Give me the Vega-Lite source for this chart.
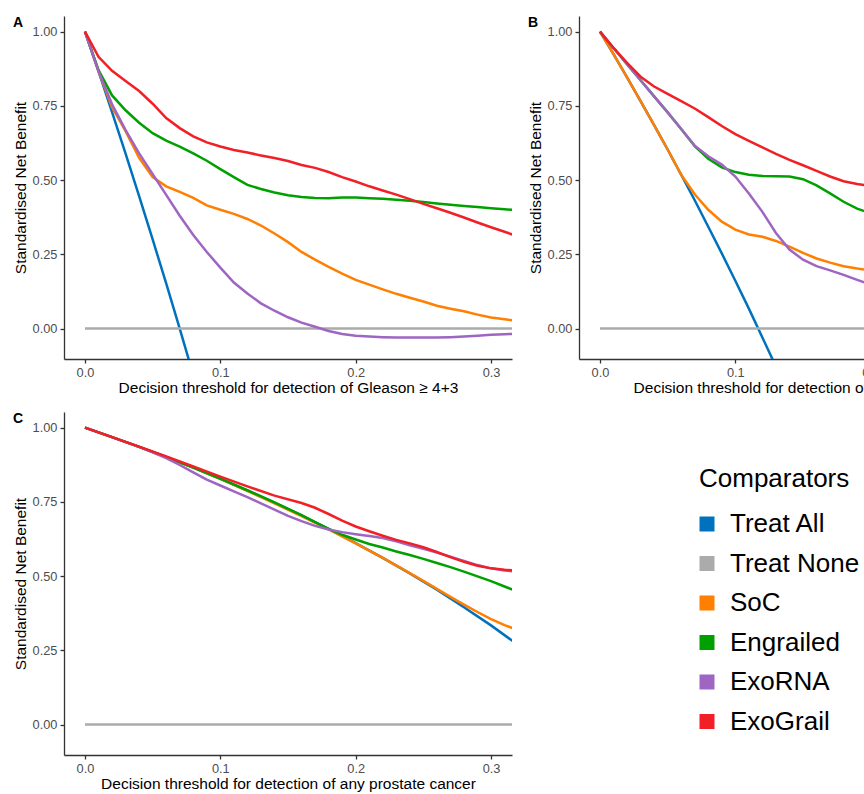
{
  "$schema": "https://vega.github.io/schema/vega-lite/v6.json",
  "padding": {"left": 13, "top": 16, "right": 0, "bottom": 0},
  "config": {
    "font": "Liberation Sans",
    "view": {"stroke": null},
    "axis": {"domainColor": "#333333", "domainWidth": 1.3, "tickColor": "#333333", "tickWidth": 1.3, "tickSize": 4, "labelFontSize": 12.8, "labelColor": "#4D4D4D", "labelPadding": 3, "titleFontSize": 15.5, "titleFontWeight": "normal", "titleColor": "#000000", "grid": false, "titlePadding": 4},
    "axisX": {"titlePadding": 2},
    "title": {"fontSize": 14, "fontWeight": "bold", "anchor": "start", "frame": "group", "offset": -9, "baseline": "alphabetic", "dx": -51, "dy": 5}
  },
  "datasets": {
    "dA": [
      {"m":"Treat All","t":0,"v":1},{"m":"Treat All","t":0.01,"v":0.866},{"m":"Treat All","t":0.02,"v":0.729},{"m":"Treat All","t":0.03,"v":0.589},{"m":"Treat All","t":0.04,"v":0.446},{"m":"Treat All","t":0.05,"v":0.3},{"m":"Treat All","t":0.06,"v":0.152},{"m":"Treat All","t":0.07,"v":0},{"m":"Treat All","t":0.08,"v":-0.156},
      {"m":"Treat None","t":0,"v":0},{"m":"Treat None","t":0.32,"v":0},
      {"m":"SoC","t":0,"v":1},{"m":"SoC","t":0.01,"v":0.866},{"m":"SoC","t":0.02,"v":0.745},{"m":"SoC","t":0.03,"v":0.665},{"m":"SoC","t":0.04,"v":0.575},{"m":"SoC","t":0.05,"v":0.51},{"m":"SoC","t":0.06,"v":0.479},{"m":"SoC","t":0.07,"v":0.46},{"m":"SoC","t":0.08,"v":0.44},{"m":"SoC","t":0.09,"v":0.415},{"m":"SoC","t":0.1,"v":0.4},{"m":"SoC","t":0.11,"v":0.386},{"m":"SoC","t":0.12,"v":0.369},{"m":"SoC","t":0.13,"v":0.347},{"m":"SoC","t":0.14,"v":0.32},{"m":"SoC","t":0.15,"v":0.291},{"m":"SoC","t":0.16,"v":0.258},{"m":"SoC","t":0.17,"v":0.232},{"m":"SoC","t":0.18,"v":0.208},{"m":"SoC","t":0.19,"v":0.185},{"m":"SoC","t":0.2,"v":0.164},{"m":"SoC","t":0.21,"v":0.148},{"m":"SoC","t":0.22,"v":0.132},{"m":"SoC","t":0.23,"v":0.117},{"m":"SoC","t":0.24,"v":0.104},{"m":"SoC","t":0.25,"v":0.091},{"m":"SoC","t":0.26,"v":0.077},{"m":"SoC","t":0.27,"v":0.067},{"m":"SoC","t":0.28,"v":0.058},{"m":"SoC","t":0.29,"v":0.047},{"m":"SoC","t":0.3,"v":0.037},{"m":"SoC","t":0.31,"v":0.031},{"m":"SoC","t":0.32,"v":0.026},
      {"m":"Engrailed","t":0,"v":1},{"m":"Engrailed","t":0.01,"v":0.87},{"m":"Engrailed","t":0.02,"v":0.785},{"m":"Engrailed","t":0.03,"v":0.735},{"m":"Engrailed","t":0.04,"v":0.693},{"m":"Engrailed","t":0.05,"v":0.658},{"m":"Engrailed","t":0.06,"v":0.633},{"m":"Engrailed","t":0.07,"v":0.613},{"m":"Engrailed","t":0.08,"v":0.59},{"m":"Engrailed","t":0.09,"v":0.565},{"m":"Engrailed","t":0.1,"v":0.537},{"m":"Engrailed","t":0.11,"v":0.51},{"m":"Engrailed","t":0.12,"v":0.484},{"m":"Engrailed","t":0.13,"v":0.47},{"m":"Engrailed","t":0.14,"v":0.458},{"m":"Engrailed","t":0.15,"v":0.449},{"m":"Engrailed","t":0.16,"v":0.443},{"m":"Engrailed","t":0.17,"v":0.44},{"m":"Engrailed","t":0.18,"v":0.439},{"m":"Engrailed","t":0.19,"v":0.441},{"m":"Engrailed","t":0.2,"v":0.441},{"m":"Engrailed","t":0.21,"v":0.439},{"m":"Engrailed","t":0.22,"v":0.437},{"m":"Engrailed","t":0.23,"v":0.434},{"m":"Engrailed","t":0.24,"v":0.43},{"m":"Engrailed","t":0.25,"v":0.426},{"m":"Engrailed","t":0.26,"v":0.421},{"m":"Engrailed","t":0.27,"v":0.417},{"m":"Engrailed","t":0.28,"v":0.413},{"m":"Engrailed","t":0.29,"v":0.409},{"m":"Engrailed","t":0.3,"v":0.405},{"m":"Engrailed","t":0.31,"v":0.402},{"m":"Engrailed","t":0.32,"v":0.398},
      {"m":"ExoRNA","t":0,"v":1},{"m":"ExoRNA","t":0.01,"v":0.866},{"m":"ExoRNA","t":0.02,"v":0.755},{"m":"ExoRNA","t":0.03,"v":0.668},{"m":"ExoRNA","t":0.04,"v":0.59},{"m":"ExoRNA","t":0.05,"v":0.52},{"m":"ExoRNA","t":0.06,"v":0.45},{"m":"ExoRNA","t":0.07,"v":0.38},{"m":"ExoRNA","t":0.08,"v":0.315},{"m":"ExoRNA","t":0.09,"v":0.258},{"m":"ExoRNA","t":0.1,"v":0.205},{"m":"ExoRNA","t":0.11,"v":0.155},{"m":"ExoRNA","t":0.12,"v":0.118},{"m":"ExoRNA","t":0.13,"v":0.085},{"m":"ExoRNA","t":0.14,"v":0.06},{"m":"ExoRNA","t":0.15,"v":0.038},{"m":"ExoRNA","t":0.16,"v":0.02},{"m":"ExoRNA","t":0.17,"v":0.006},{"m":"ExoRNA","t":0.18,"v":-0.008},{"m":"ExoRNA","t":0.19,"v":-0.018},{"m":"ExoRNA","t":0.2,"v":-0.024},{"m":"ExoRNA","t":0.21,"v":-0.027},{"m":"ExoRNA","t":0.22,"v":-0.029},{"m":"ExoRNA","t":0.23,"v":-0.03},{"m":"ExoRNA","t":0.24,"v":-0.03},{"m":"ExoRNA","t":0.25,"v":-0.03},{"m":"ExoRNA","t":0.26,"v":-0.03},{"m":"ExoRNA","t":0.27,"v":-0.029},{"m":"ExoRNA","t":0.28,"v":-0.027},{"m":"ExoRNA","t":0.29,"v":-0.024},{"m":"ExoRNA","t":0.3,"v":-0.021},{"m":"ExoRNA","t":0.31,"v":-0.019},{"m":"ExoRNA","t":0.32,"v":-0.017},
      {"m":"ExoGrail","t":0,"v":1},{"m":"ExoGrail","t":0.01,"v":0.915},{"m":"ExoGrail","t":0.02,"v":0.868},{"m":"ExoGrail","t":0.03,"v":0.834},{"m":"ExoGrail","t":0.04,"v":0.8},{"m":"ExoGrail","t":0.05,"v":0.757},{"m":"ExoGrail","t":0.06,"v":0.709},{"m":"ExoGrail","t":0.07,"v":0.675},{"m":"ExoGrail","t":0.08,"v":0.647},{"m":"ExoGrail","t":0.09,"v":0.627},{"m":"ExoGrail","t":0.1,"v":0.613},{"m":"ExoGrail","t":0.11,"v":0.601},{"m":"ExoGrail","t":0.12,"v":0.593},{"m":"ExoGrail","t":0.13,"v":0.583},{"m":"ExoGrail","t":0.14,"v":0.574},{"m":"ExoGrail","t":0.15,"v":0.564},{"m":"ExoGrail","t":0.16,"v":0.551},{"m":"ExoGrail","t":0.17,"v":0.541},{"m":"ExoGrail","t":0.18,"v":0.527},{"m":"ExoGrail","t":0.19,"v":0.51},{"m":"ExoGrail","t":0.2,"v":0.495},{"m":"ExoGrail","t":0.21,"v":0.479},{"m":"ExoGrail","t":0.22,"v":0.465},{"m":"ExoGrail","t":0.23,"v":0.451},{"m":"ExoGrail","t":0.24,"v":0.436},{"m":"ExoGrail","t":0.25,"v":0.42},{"m":"ExoGrail","t":0.26,"v":0.405},{"m":"ExoGrail","t":0.27,"v":0.39},{"m":"ExoGrail","t":0.28,"v":0.374},{"m":"ExoGrail","t":0.29,"v":0.357},{"m":"ExoGrail","t":0.3,"v":0.341},{"m":"ExoGrail","t":0.31,"v":0.326},{"m":"ExoGrail","t":0.32,"v":0.31}
    ],
    "dB": [
      {"m":"Treat All","t":0,"v":1},{"m":"Treat All","t":0.01,"v":0.924},{"m":"Treat All","t":0.02,"v":0.846},{"m":"Treat All","t":0.03,"v":0.766},{"m":"Treat All","t":0.04,"v":0.685},{"m":"Treat All","t":0.05,"v":0.603},{"m":"Treat All","t":0.06,"v":0.518},{"m":"Treat All","t":0.07,"v":0.432},{"m":"Treat All","t":0.08,"v":0.343},{"m":"Treat All","t":0.09,"v":0.253},{"m":"Treat All","t":0.1,"v":0.161},{"m":"Treat All","t":0.11,"v":0.067},{"m":"Treat All","t":0.12,"v":-0.03},{"m":"Treat All","t":0.13,"v":-0.128},
      {"m":"Treat None","t":0,"v":0},{"m":"Treat None","t":0.32,"v":0},
      {"m":"SoC","t":0,"v":1},{"m":"SoC","t":0.01,"v":0.924},{"m":"SoC","t":0.02,"v":0.846},{"m":"SoC","t":0.03,"v":0.766},{"m":"SoC","t":0.04,"v":0.685},{"m":"SoC","t":0.05,"v":0.603},{"m":"SoC","t":0.06,"v":0.518},{"m":"SoC","t":0.07,"v":0.452},{"m":"SoC","t":0.08,"v":0.4},{"m":"SoC","t":0.09,"v":0.36},{"m":"SoC","t":0.1,"v":0.333},{"m":"SoC","t":0.11,"v":0.317},{"m":"SoC","t":0.12,"v":0.309},{"m":"SoC","t":0.13,"v":0.295},{"m":"SoC","t":0.14,"v":0.276},{"m":"SoC","t":0.15,"v":0.255},{"m":"SoC","t":0.16,"v":0.236},{"m":"SoC","t":0.17,"v":0.222},{"m":"SoC","t":0.18,"v":0.21},{"m":"SoC","t":0.19,"v":0.202},{"m":"SoC","t":0.2,"v":0.196},
      {"m":"Engrailed","t":0,"v":1},{"m":"Engrailed","t":0.01,"v":0.945},{"m":"Engrailed","t":0.02,"v":0.89},{"m":"Engrailed","t":0.03,"v":0.836},{"m":"Engrailed","t":0.04,"v":0.782},{"m":"Engrailed","t":0.05,"v":0.728},{"m":"Engrailed","t":0.06,"v":0.672},{"m":"Engrailed","t":0.07,"v":0.614},{"m":"Engrailed","t":0.08,"v":0.572},{"m":"Engrailed","t":0.09,"v":0.543},{"m":"Engrailed","t":0.1,"v":0.527},{"m":"Engrailed","t":0.11,"v":0.518},{"m":"Engrailed","t":0.12,"v":0.514},{"m":"Engrailed","t":0.13,"v":0.513},{"m":"Engrailed","t":0.14,"v":0.512},{"m":"Engrailed","t":0.15,"v":0.503},{"m":"Engrailed","t":0.16,"v":0.482},{"m":"Engrailed","t":0.17,"v":0.455},{"m":"Engrailed","t":0.18,"v":0.427},{"m":"Engrailed","t":0.19,"v":0.404},{"m":"Engrailed","t":0.2,"v":0.388},
      {"m":"ExoRNA","t":0,"v":1},{"m":"ExoRNA","t":0.01,"v":0.945},{"m":"ExoRNA","t":0.02,"v":0.89},{"m":"ExoRNA","t":0.03,"v":0.836},{"m":"ExoRNA","t":0.04,"v":0.782},{"m":"ExoRNA","t":0.05,"v":0.728},{"m":"ExoRNA","t":0.06,"v":0.672},{"m":"ExoRNA","t":0.07,"v":0.616},{"m":"ExoRNA","t":0.08,"v":0.58},{"m":"ExoRNA","t":0.09,"v":0.552},{"m":"ExoRNA","t":0.1,"v":0.512},{"m":"ExoRNA","t":0.11,"v":0.455},{"m":"ExoRNA","t":0.12,"v":0.393},{"m":"ExoRNA","t":0.13,"v":0.322},{"m":"ExoRNA","t":0.14,"v":0.266},{"m":"ExoRNA","t":0.15,"v":0.232},{"m":"ExoRNA","t":0.16,"v":0.21},{"m":"ExoRNA","t":0.17,"v":0.196},{"m":"ExoRNA","t":0.18,"v":0.181},{"m":"ExoRNA","t":0.19,"v":0.164},{"m":"ExoRNA","t":0.2,"v":0.148},
      {"m":"ExoGrail","t":0,"v":1},{"m":"ExoGrail","t":0.01,"v":0.945},{"m":"ExoGrail","t":0.02,"v":0.895},{"m":"ExoGrail","t":0.03,"v":0.848},{"m":"ExoGrail","t":0.04,"v":0.815},{"m":"ExoGrail","t":0.05,"v":0.79},{"m":"ExoGrail","t":0.06,"v":0.766},{"m":"ExoGrail","t":0.07,"v":0.741},{"m":"ExoGrail","t":0.08,"v":0.712},{"m":"ExoGrail","t":0.09,"v":0.682},{"m":"ExoGrail","t":0.1,"v":0.655},{"m":"ExoGrail","t":0.11,"v":0.632},{"m":"ExoGrail","t":0.12,"v":0.61},{"m":"ExoGrail","t":0.13,"v":0.588},{"m":"ExoGrail","t":0.14,"v":0.568},{"m":"ExoGrail","t":0.15,"v":0.55},{"m":"ExoGrail","t":0.16,"v":0.531},{"m":"ExoGrail","t":0.17,"v":0.512},{"m":"ExoGrail","t":0.18,"v":0.496},{"m":"ExoGrail","t":0.19,"v":0.487},{"m":"ExoGrail","t":0.2,"v":0.48}
    ],
    "dC": [
      {"m":"Treat All","t":0,"v":1},{"m":"Treat All","t":0.02,"v":0.968},{"m":"Treat All","t":0.04,"v":0.935},{"m":"Treat All","t":0.06,"v":0.901},{"m":"Treat All","t":0.08,"v":0.865},{"m":"Treat All","t":0.1,"v":0.827},{"m":"Treat All","t":0.12,"v":0.788},{"m":"Treat All","t":0.14,"v":0.747},{"m":"Treat All","t":0.16,"v":0.704},{"m":"Treat All","t":0.18,"v":0.659},{"m":"Treat All","t":0.2,"v":0.611},{"m":"Treat All","t":0.22,"v":0.561},{"m":"Treat All","t":0.24,"v":0.509},{"m":"Treat All","t":0.26,"v":0.454},{"m":"Treat All","t":0.28,"v":0.395},{"m":"Treat All","t":0.3,"v":0.334},{"m":"Treat All","t":0.32,"v":0.268},
      {"m":"Treat None","t":0,"v":0},{"m":"Treat None","t":0.32,"v":0},
      {"m":"SoC","t":0,"v":1},{"m":"SoC","t":0.02,"v":0.968},{"m":"SoC","t":0.04,"v":0.935},{"m":"SoC","t":0.06,"v":0.901},{"m":"SoC","t":0.08,"v":0.865},{"m":"SoC","t":0.1,"v":0.827},{"m":"SoC","t":0.12,"v":0.787},{"m":"SoC","t":0.14,"v":0.745},{"m":"SoC","t":0.16,"v":0.702},{"m":"SoC","t":0.18,"v":0.657},{"m":"SoC","t":0.2,"v":0.61},{"m":"SoC","t":0.22,"v":0.561},{"m":"SoC","t":0.24,"v":0.51},{"m":"SoC","t":0.25,"v":0.484},{"m":"SoC","t":0.26,"v":0.457},{"m":"SoC","t":0.27,"v":0.43},{"m":"SoC","t":0.28,"v":0.404},{"m":"SoC","t":0.29,"v":0.379},{"m":"SoC","t":0.3,"v":0.355},{"m":"SoC","t":0.31,"v":0.335},{"m":"SoC","t":0.32,"v":0.318},
      {"m":"Engrailed","t":0,"v":1},{"m":"Engrailed","t":0.02,"v":0.968},{"m":"Engrailed","t":0.04,"v":0.935},{"m":"Engrailed","t":0.06,"v":0.901},{"m":"Engrailed","t":0.08,"v":0.865},{"m":"Engrailed","t":0.1,"v":0.828},{"m":"Engrailed","t":0.12,"v":0.789},{"m":"Engrailed","t":0.14,"v":0.748},{"m":"Engrailed","t":0.16,"v":0.705},{"m":"Engrailed","t":0.17,"v":0.682},{"m":"Engrailed","t":0.18,"v":0.659},{"m":"Engrailed","t":0.19,"v":0.639},{"m":"Engrailed","t":0.2,"v":0.623},{"m":"Engrailed","t":0.21,"v":0.608},{"m":"Engrailed","t":0.22,"v":0.596},{"m":"Engrailed","t":0.23,"v":0.583},{"m":"Engrailed","t":0.24,"v":0.571},{"m":"Engrailed","t":0.25,"v":0.558},{"m":"Engrailed","t":0.26,"v":0.544},{"m":"Engrailed","t":0.27,"v":0.53},{"m":"Engrailed","t":0.28,"v":0.515},{"m":"Engrailed","t":0.29,"v":0.499},{"m":"Engrailed","t":0.3,"v":0.483},{"m":"Engrailed","t":0.31,"v":0.465},{"m":"Engrailed","t":0.32,"v":0.447},
      {"m":"ExoRNA","t":0,"v":1},{"m":"ExoRNA","t":0.02,"v":0.968},{"m":"ExoRNA","t":0.04,"v":0.935},{"m":"ExoRNA","t":0.05,"v":0.917},{"m":"ExoRNA","t":0.06,"v":0.897},{"m":"ExoRNA","t":0.07,"v":0.874},{"m":"ExoRNA","t":0.08,"v":0.849},{"m":"ExoRNA","t":0.09,"v":0.825},{"m":"ExoRNA","t":0.1,"v":0.805},{"m":"ExoRNA","t":0.11,"v":0.785},{"m":"ExoRNA","t":0.12,"v":0.766},{"m":"ExoRNA","t":0.13,"v":0.745},{"m":"ExoRNA","t":0.14,"v":0.724},{"m":"ExoRNA","t":0.15,"v":0.703},{"m":"ExoRNA","t":0.16,"v":0.685},{"m":"ExoRNA","t":0.17,"v":0.669},{"m":"ExoRNA","t":0.18,"v":0.657},{"m":"ExoRNA","t":0.19,"v":0.648},{"m":"ExoRNA","t":0.2,"v":0.641},{"m":"ExoRNA","t":0.21,"v":0.635},{"m":"ExoRNA","t":0.22,"v":0.628},{"m":"ExoRNA","t":0.23,"v":0.617},{"m":"ExoRNA","t":0.24,"v":0.604},{"m":"ExoRNA","t":0.25,"v":0.592},{"m":"ExoRNA","t":0.26,"v":0.579},{"m":"ExoRNA","t":0.27,"v":0.565},{"m":"ExoRNA","t":0.28,"v":0.551},{"m":"ExoRNA","t":0.29,"v":0.537},{"m":"ExoRNA","t":0.3,"v":0.526},{"m":"ExoRNA","t":0.31,"v":0.519},{"m":"ExoRNA","t":0.32,"v":0.514},
      {"m":"ExoGrail","t":0,"v":1},{"m":"ExoGrail","t":0.02,"v":0.968},{"m":"ExoGrail","t":0.04,"v":0.936},{"m":"ExoGrail","t":0.06,"v":0.903},{"m":"ExoGrail","t":0.08,"v":0.869},{"m":"ExoGrail","t":0.1,"v":0.835},{"m":"ExoGrail","t":0.12,"v":0.802},{"m":"ExoGrail","t":0.14,"v":0.771},{"m":"ExoGrail","t":0.16,"v":0.746},{"m":"ExoGrail","t":0.17,"v":0.73},{"m":"ExoGrail","t":0.18,"v":0.709},{"m":"ExoGrail","t":0.19,"v":0.687},{"m":"ExoGrail","t":0.2,"v":0.667},{"m":"ExoGrail","t":0.21,"v":0.651},{"m":"ExoGrail","t":0.22,"v":0.636},{"m":"ExoGrail","t":0.23,"v":0.622},{"m":"ExoGrail","t":0.24,"v":0.61},{"m":"ExoGrail","t":0.25,"v":0.597},{"m":"ExoGrail","t":0.26,"v":0.581},{"m":"ExoGrail","t":0.27,"v":0.564},{"m":"ExoGrail","t":0.28,"v":0.548},{"m":"ExoGrail","t":0.29,"v":0.535},{"m":"ExoGrail","t":0.3,"v":0.526},{"m":"ExoGrail","t":0.31,"v":0.521},{"m":"ExoGrail","t":0.32,"v":0.518}
    ]
  },
  "columns": 2,
  "spacing": {"row": 53, "column": 67},
  "bounds": "flush",
  "concat": [
    {
      "width": 448, "height": 343,
      "data": {"name": "dA"},
      "title": {"text": "A"},
      "mark": {"type": "line", "strokeWidth": 2.5, "clip": true},
      "encoding": {
        "x": {"field": "t", "type": "quantitative", "scale": {"domain": [-0.0155, 0.3155], "nice": false, "zero": false}, "axis": {"values": [0, 0.1, 0.2, 0.3], "format": ".1f", "title": "Decision threshold for detection of Gleason ≥ 4+3"}},
        "y": {"field": "v", "type": "quantitative", "scale": {"domain": [-0.1025, 1.0525], "nice": false, "zero": false}, "axis": {"values": [0, 0.25, 0.5, 0.75, 1], "format": ".2f", "title": "Standardised Net Benefit"}},
        "color": {"field": "m", "type": "nominal", "scale": {"domain": ["Treat All", "Treat None", "SoC", "Engrailed", "ExoRNA", "ExoGrail"], "range": ["#0072BD", "#ABABAB", "#FF7F00", "#00A000", "#9E65C2", "#F21F26"]},
          "legend": {"orient": "none", "legendX": 635, "legendY": 450, "padding": 0, "title": "Comparators", "titleFontSize": 26, "titleFontWeight": "normal", "titleColor": "#000000", "labelFontSize": 26, "labelColor": "#000000", "symbolType": "square", "symbolSize": 225, "symbolStrokeWidth": 0, "symbolOffset": -5, "rowPadding": 13.5, "titlePadding": 19, "labelOffset": 10,
            "encode": {"symbols": {"update": {"fill": {"scale": "color", "field": "value"}, "fillOpacity": {"value": 1}, "strokeWidth": {"value": 0}}}}}}
      }
    },
    {
      "width": 448, "height": 343,
      "data": {"name": "dB"},
      "title": {"text": "B"},
      "mark": {"type": "line", "strokeWidth": 2.5, "clip": true},
      "encoding": {
        "x": {"field": "t", "type": "quantitative", "scale": {"domain": [-0.0155, 0.3155], "nice": false, "zero": false}, "axis": {"values": [0, 0.1, 0.2, 0.3], "format": ".1f", "title": "Decision threshold for detection of Gleason ≥ 3+4"}},
        "y": {"field": "v", "type": "quantitative", "scale": {"domain": [-0.1025, 1.0525], "nice": false, "zero": false}, "axis": {"values": [0, 0.25, 0.5, 0.75, 1], "format": ".2f", "title": "Standardised Net Benefit"}},
        "color": {"field": "m", "type": "nominal", "scale": {"domain": ["Treat All", "Treat None", "SoC", "Engrailed", "ExoRNA", "ExoGrail"], "range": ["#0072BD", "#ABABAB", "#FF7F00", "#00A000", "#9E65C2", "#F21F26"]},
          "legend": {"orient": "none", "legendX": 635, "legendY": 450, "padding": 0, "title": "Comparators", "titleFontSize": 26, "titleFontWeight": "normal", "titleColor": "#000000", "labelFontSize": 26, "labelColor": "#000000", "symbolType": "square", "symbolSize": 225, "symbolStrokeWidth": 0, "symbolOffset": -5, "rowPadding": 13.5, "titlePadding": 19, "labelOffset": 10,
            "encode": {"symbols": {"update": {"fill": {"scale": "color", "field": "value"}, "fillOpacity": {"value": 1}, "strokeWidth": {"value": 0}}}}}}
      }
    },
    {
      "width": 448, "height": 343,
      "data": {"name": "dC"},
      "title": {"text": "C"},
      "mark": {"type": "line", "strokeWidth": 2.5, "clip": true},
      "encoding": {
        "x": {"field": "t", "type": "quantitative", "scale": {"domain": [-0.0155, 0.3155], "nice": false, "zero": false}, "axis": {"values": [0, 0.1, 0.2, 0.3], "format": ".1f", "title": "Decision threshold for detection of any prostate cancer"}},
        "y": {"field": "v", "type": "quantitative", "scale": {"domain": [-0.1025, 1.0525], "nice": false, "zero": false}, "axis": {"values": [0, 0.25, 0.5, 0.75, 1], "format": ".2f", "title": "Standardised Net Benefit"}},
        "color": {"field": "m", "type": "nominal", "scale": {"domain": ["Treat All", "Treat None", "SoC", "Engrailed", "ExoRNA", "ExoGrail"], "range": ["#0072BD", "#ABABAB", "#FF7F00", "#00A000", "#9E65C2", "#F21F26"]},
          "legend": {"orient": "none", "legendX": 635, "legendY": 450, "padding": 0, "title": "Comparators", "titleFontSize": 26, "titleFontWeight": "normal", "titleColor": "#000000", "labelFontSize": 26, "labelColor": "#000000", "symbolType": "square", "symbolSize": 225, "symbolStrokeWidth": 0, "symbolOffset": -5, "rowPadding": 13.5, "titlePadding": 19, "labelOffset": 10,
            "encode": {"symbols": {"update": {"fill": {"scale": "color", "field": "value"}, "fillOpacity": {"value": 1}, "strokeWidth": {"value": 0}}}}}}
      }
    }
  ]
}
